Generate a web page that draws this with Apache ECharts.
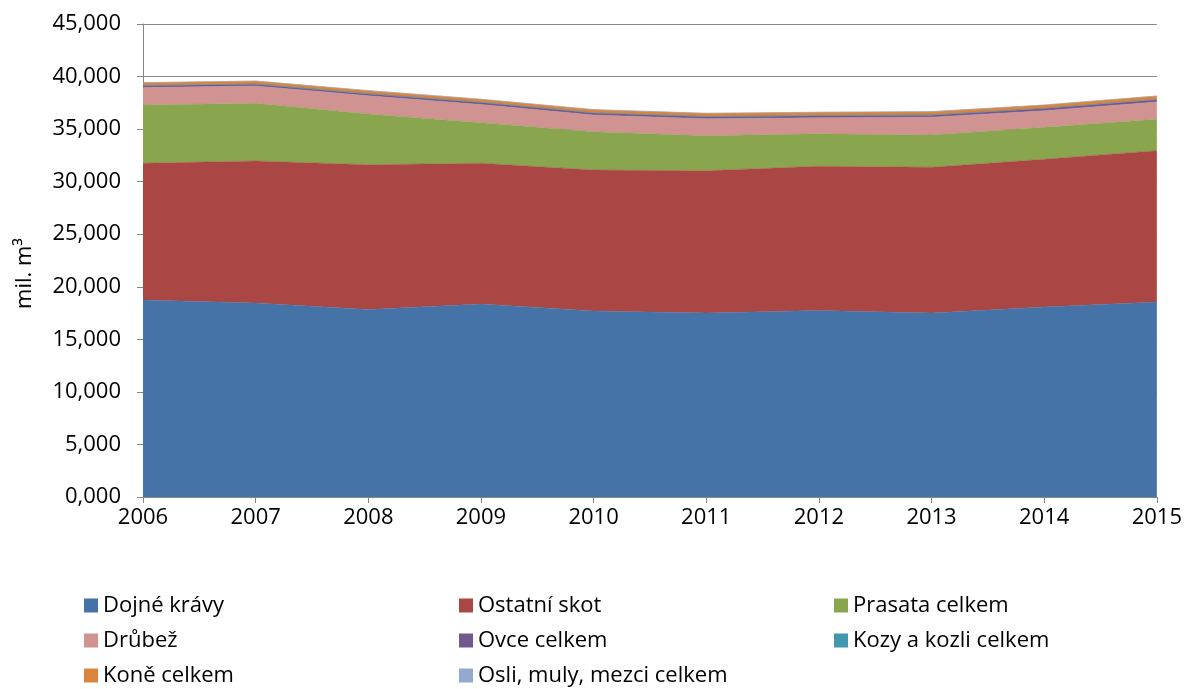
<!DOCTYPE html>
<html>
<head>
<meta charset="utf-8">
<script src="https://cdn.jsdelivr.net/npm/echarts@6/dist/echarts.min.js"></script>
<style>html,body{margin:0;padding:0;background:#fff}#c{width:1185px;height:689px}</style>
</head>
<body>
<div id="c"></div>
<script>
const years = ['2006','2007','2008','2009','2010','2011','2012','2013','2014','2015'];
const dojneKravy = [18.74, 18.46, 17.85, 18.36, 17.70, 17.50, 17.75, 17.50, 18.08, 18.55];
const ostatniSkot = [13.01, 13.51, 13.76, 13.39, 13.41, 13.54, 13.71, 13.87, 14.05, 14.40];
const prasata = [5.54, 5.48, 4.83, 3.86, 3.64, 3.33, 3.10, 3.07, 3.04, 2.98];
const drubez = [1.66, 1.65, 1.73, 1.73, 1.59, 1.62, 1.52, 1.70, 1.58, 1.66];
const ovce = [0.17, 0.17, 0.18, 0.19, 0.19, 0.19, 0.19, 0.19, 0.20, 0.21];
const kozy = [0.02, 0.02, 0.02, 0.02, 0.02, 0.02, 0.02, 0.02, 0.02, 0.02];
const kone = [0.28, 0.28, 0.29, 0.29, 0.30, 0.30, 0.31, 0.31, 0.32, 0.33];
const osli = [0.005, 0.005, 0.005, 0.005, 0.005, 0.005, 0.005, 0.005, 0.005, 0.005];

const seriesDefs = [
  ['Dojné krávy', dojneKravy, '#4572A7'],
  ['Ostatní skot', ostatniSkot, '#AA4643'],
  ['Prasata celkem', prasata, '#89A54E'],
  ['Drůbež', drubez, '#D09392'],
  ['Ovce celkem', ovce, '#71588F'],
  ['Kozy a kozli celkem', kozy, '#4198AF'],
  ['Koně celkem', kone, '#DB843D'],
  ['Osli, muly, mezci celkem', osli, '#93A9CF']
];
const FONT = 'Open Sans';
const chart = echarts.init(document.getElementById('c'));
const legendCommon = {
  orient: 'vertical', itemWidth: 14, itemHeight: 14, itemGap: 12, icon: 'rect',
  height: 100,
  textStyle: {fontFamily: FONT, fontSize: 22, color: '#000', lineHeight: 23},
  selectedMode: false, top: 589
};
chart.setOption({
  animation: false,
  color: seriesDefs.map(d => d[2]),
  grid: {left: 143, right: 28, top: 24, bottom: 192},
  legend: [
    Object.assign({}, legendCommon, {left: 79, data: ['Dojné krávy','Drůbež','Koně celkem']}),
    Object.assign({}, legendCommon, {left: 454, data: ['Ostatní skot','Ovce celkem','Osli, muly, mezci celkem']}),
    Object.assign({}, legendCommon, {left: 829, data: ['Prasata celkem','Kozy a kozli celkem']})
  ],
  graphic: [{
    type: 'text', left: 14, top: 238, rotation: Math.PI / 2,
    style: {text: 'mil. m³', font: '22px "Open Sans"', fill: '#000'}
  }],
  xAxis: {
    type: 'category', data: years, boundaryGap: false,
    axisLine: {lineStyle: {color: '#868686', width: 1}},
    axisTick: {show: true, length: 6, lineStyle: {color: '#868686'}},
    axisLabel: {fontFamily: FONT, fontSize: 22, color: '#000', margin: 10}
  },
  yAxis: {
    type: 'value', min: 0, max: 45, interval: 5,
    axisLine: {show: true, lineStyle: {color: '#868686'}},
    axisTick: {show: true, length: 6, lineStyle: {color: '#868686'}},
    splitLine: {lineStyle: {color: '#868686', width: 1}},
    axisLabel: {fontFamily: FONT, fontSize: 22, color: '#000', margin: 22,
      formatter: v => v.toFixed(3).replace('.', ',')}
  },
  series: seriesDefs.map(d => ({
    name: d[0], type: 'line', stack: 'total', data: d[1],
    symbol: 'none', showSymbol: false,
    lineStyle: {width: 0.5, color: d[2]},
    areaStyle: {color: d[2], opacity: 1},
    itemStyle: {color: d[2]}
  }))
});
</script>
</body>
</html>
